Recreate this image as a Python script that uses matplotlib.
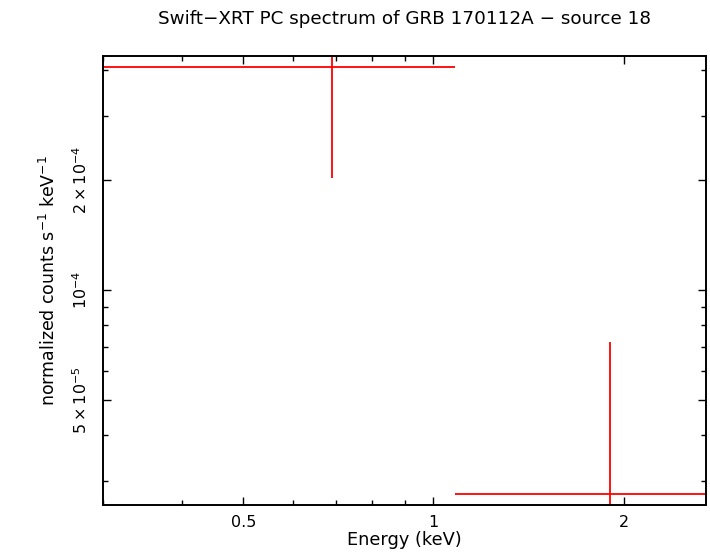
import matplotlib
matplotlib.use("Agg")
import matplotlib.pyplot as plt
from matplotlib.ticker import FixedLocator, FixedFormatter, NullFormatter

plt.rcParams['font.family'] = ['DejaVu Sans']
plt.rcParams['mathtext.fontset'] = 'dejavusans'

# data (keV, normalized counts s^-1 keV^-1)
energy = [0.69, 1.90]
energy_err = [0.39, 0.82]
rate = [4.08e-4, 2.76e-5]
rate_err_lo = [2.05e-4, 2.7e-5]
rate_err_hi = [2.05e-4, 4.45e-5]

x_major = [0.5, 1, 2]
x_major_labels = ['0.5', '1', '2']
x_minor = [0.3, 0.4, 0.6, 0.7, 0.8, 0.9]
y_major = [5e-5, 1e-4, 2e-4]
y_major_labels = [r'$5\times10^{-5}$', r'$10^{-4}$', r'$2\times10^{-4}$']
y_minor = [3e-5, 4e-5, 6e-5, 7e-5, 8e-5, 9e-5, 3e-4, 4e-4]

fig = plt.figure(figsize=(7.10, 5.56), dpi=100)
ax = fig.add_axes([0.1451, 0.0917, 0.9944 - 0.1451, 0.8993 - 0.0917])
ax.set_xscale('log')
ax.set_yscale('log')

ax.errorbar(energy, rate, xerr=[energy_err, energy_err],
            yerr=[rate_err_lo, rate_err_hi], fmt='none',
            ecolor='#ff0000', elinewidth=1.3, capsize=0)

ax.set_xlim(0.3, 2.70)
ax.set_ylim(2.58e-5, 4.37e-4)

ax.xaxis.set_major_locator(FixedLocator(x_major))
ax.xaxis.set_major_formatter(FixedFormatter(x_major_labels))
ax.xaxis.set_minor_locator(FixedLocator(x_minor))
ax.xaxis.set_minor_formatter(NullFormatter())
ax.yaxis.set_major_locator(FixedLocator(y_major))
ax.yaxis.set_major_formatter(FixedFormatter(y_major_labels))
ax.yaxis.set_minor_locator(FixedLocator(y_minor))
ax.yaxis.set_minor_formatter(NullFormatter())

ax.tick_params(which='both', direction='in', top=True, right=True, width=1.0, color='black')
ax.tick_params(which='major', length=6, labelsize=11.5)
ax.tick_params(which='minor', length=3.5)
ax.tick_params(axis='x', which='major', pad=7)
for lab in ax.get_yticklabels():
    lab.set_rotation(90)
    lab.set_va('center')
    lab.set_ha('center')
ax.tick_params(axis='y', which='major', pad=16)

for s in ax.spines.values():
    s.set_linewidth(1.4)

ax.set_xlabel('Energy (keV)', fontsize=12.8, labelpad=1)
ax.set_ylabel(r'normalized counts s$^{-1}$ keV$^{-1}$', fontsize=12.5, labelpad=9)
fig.text(0.5694, 0.966, 'Swift\u2212XRT PC spectrum of GRB 170112A \u2212 source 18',
         ha='center', va='center', fontsize=13.2)

fig.savefig('out.png', dpi=100)
